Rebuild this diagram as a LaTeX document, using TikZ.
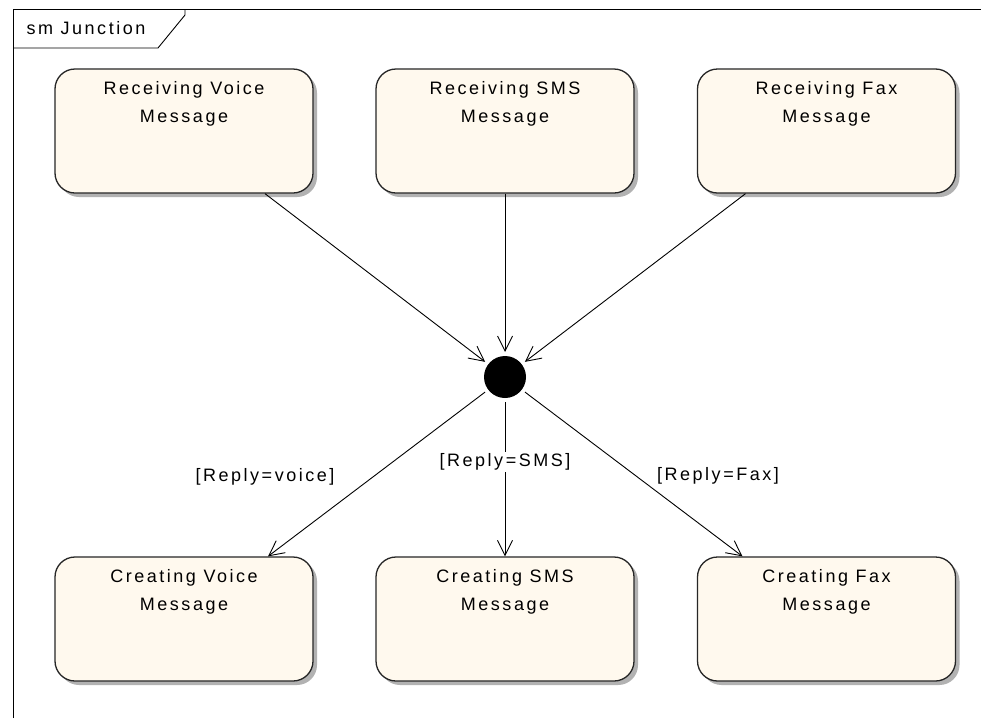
\documentclass[tikz,border=0pt]{standalone}
\usepackage{fontspec}
\setmainfont{Liberation Sans}[LetterSpace=14]
\usetikzlibrary{arrows.meta,shadows,calc}
\definecolor{boxfill}{RGB}{255,249,238}
\begin{document}
\begin{tikzpicture}[x=1pt,y=-1pt,
  statebox/.style={draw=black!85, line width=1.3pt, fill=boxfill, rounded corners=20pt,
    minimum width=258pt, minimum height=124pt, inner sep=0pt,
    drop shadow={shadow xshift=4pt, shadow yshift=-4pt, fill=black!30, opacity=1}},
  txt/.style={align=center, font=\fontsize{18}{28}\selectfont, inner sep=0pt},
  arr/.style={-{Straight Barb[length=15pt,width=15pt]}, line width=0.9pt},
  junc/.style={circle, fill=black, minimum size=42pt, inner sep=0pt, outer sep=4pt},
  guard/.style={font=\fontsize{18}{20}\selectfont, inner sep=2pt}
]
\useasboundingbox (0,0) rectangle (981,718);
\fill[white] (0,0) rectangle (981,718);
% frame
\draw[line width=0.9pt] (13,718) -- (13,9) -- (981,9);
\draw[line width=0.9pt] (13,48) -- (158,48) -- (185,15) -- (185,9);
\node[txt] (title) at (86,28) {sm Junction};
% states
\node[statebox] (rv) at (184,131) {};
\node[statebox] (rs) at (505,131) {};
\node[statebox] (rf) at (826.5,131) {};
\node[statebox] (cv) at (184,619) {};
\node[statebox] (cs) at (505,619) {};
\node[statebox] (cf) at (826.5,619) {};
\node[txt] (rvt) at (184,104) {Receiving Voice\\Message};
\node[txt] (rst) at (505,104) {Receiving SMS\\Message};
\node[txt] (rft) at (826.5,104) {Receiving Fax\\Message};
\node[txt] (cvt) at (184,592) {Creating Voice\\Message};
\node[txt] (cst) at (505,592) {Creating SMS\\Message};
\node[txt] (cft) at (826.5,592) {Creating Fax\\Message};
% junction
\node[junc] (j) at (505,377) {};
% incoming
\draw[arr] ($(rv.south)+(81,0)$) -- (j);
\draw[arr] (rs.south) -- (j);
\draw[arr] ($(rf.south)+(-81,0)$) -- (j);
% outgoing
\draw[arr] (j) -- ($(cv.north)+(84,0)$);
\draw[arr] (j) -- (cs.north);
\draw[arr] (j) -- ($(cf.north)+(-84,0)$);
% guards
\node[guard] (g1) at (265,477) {[Reply=voice]};
\node[guard, fill=white] (g2) at (505,462) {[Reply=SMS]};
\node[guard] (g3) at (718,476) {[Reply=Fax]};
\end{tikzpicture}
\end{document}
